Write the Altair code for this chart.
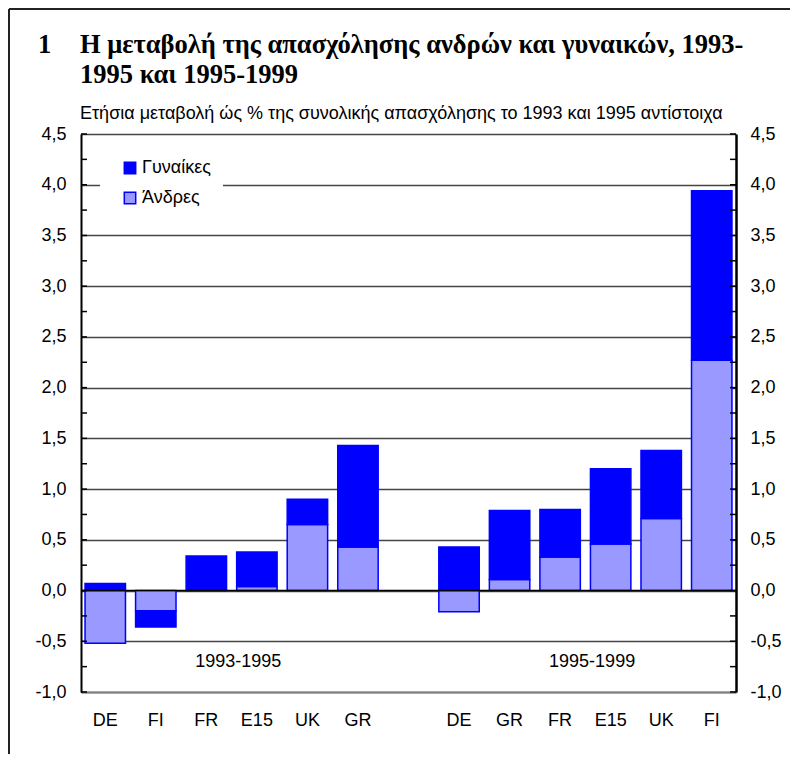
import altair as alt
import pandas as pd

# ---------------- data ----------------
countries_9395 = ["DE", "FI", "FR", "E15", "UK", "GR"]
countries_9599 = ["DE", "GR", "FR", "E15", "UK", "FI"]
men_9395 = [-0.52, -0.20, 0.00, 0.04, 0.65, 0.43]
women_9395 = [0.07, -0.16, 0.34, 0.34, 0.25, 1.00]
men_9599 = [-0.21, 0.11, 0.33, 0.46, 0.71, 2.27]
women_9599 = [0.43, 0.68, 0.47, 0.74, 0.67, 1.67]
series_names = ["Γυναίκες", "Άνδρες"]
series_colors = ["#0000FF", "#9999FF"]
period_labels = ["1993-1995", "1995-1999"]
period_anchor = ["FR|93", "FR|99"]
y_label_values = [-1.0, -0.5, 0.0, 0.5, 1.0, 1.5, 2.0, 2.5, 3.0, 3.5, 4.0, 4.5]
y_minor_ticks = [-1.0 + 0.25 * i for i in range(23)]
title_lines = ["Η μεταβολή της απασχόλησης ανδρών και γυναικών, 1993-",
               "1995 και 1995-1999"]
title_number = "1"
subtitle = "Ετήσια μεταβολή ώς % της συνολικής απασχόλησης το 1993 και 1995 αντίστοιχα"

keys = [c + "|93" for c in countries_9395] + ["|gap"] + [c + "|99" for c in countries_9599]

rows = []
for c, m, w in zip(countries_9395, men_9395, women_9395):
    rows.append({"key": c + "|93", "sex": series_names[1], "value": m, "ord": 0})
    rows.append({"key": c + "|93", "sex": series_names[0], "value": w, "ord": 1})
for c, m, w in zip(countries_9599, men_9599, women_9599):
    rows.append({"key": c + "|99", "sex": series_names[1], "value": m, "ord": 0})
    rows.append({"key": c + "|99", "sex": series_names[0], "value": w, "ord": 1})
df = pd.DataFrame(rows)

W, H = 655, 558
FONT = "Liberation Sans"
FS = 18
yscale = alt.Scale(domain=[-1.0, 4.5], nice=False, zero=False)
xscale = alt.Scale(domain=keys, paddingInner=0.2, paddingOuter=0.08)
comma_expr = "replace(replace(format(datum.value, '.1f'), '.', ','), '\u2212', '-')"

x_axis = alt.Axis(labelExpr="split(datum.label, '|')[0]", labelAngle=0,
                  labelFont=FONT, labelFontSize=FS, labelColor="#000",
                  labelPadding=19, ticks=False, domainColor="#808080",
                  domainWidth=2, grid=False, title=None)

bars = alt.Chart(df).mark_bar(stroke="#0000FF", strokeWidth=1.5).encode(
    x=alt.X("key:N", scale=xscale, sort=keys, title=None, axis=x_axis),
    y=alt.Y("value:Q", stack="zero", scale=yscale, title=None,
            axis=alt.Axis(orient="left", values=y_label_values, labelExpr=comma_expr,
                          labelFont=FONT, labelFontSize=FS, labelColor="#000",
                          labelPadding=15, ticks=False, domainColor="#000",
                          domainWidth=2, grid=True, gridColor="#444",
                          gridWidth=1.5)),
    color=alt.Color("sex:N", scale=alt.Scale(domain=series_names, range=series_colors),
                    legend=alt.Legend(orient="none", legendX=19, legendY=13,
                                      title=None, fillColor="white", padding=12,
                                      symbolType="square", symbolSize=130,
                                      symbolStrokeColor="#0000FF",
                                      symbolStrokeWidth=1.5, symbolOffset=9,
                                      labelFont=FONT, labelFontSize=FS,
                                      labelColor="#000", rowPadding=12,
                                      labelOffset=3)),
    order=alt.Order("ord:Q"),
)

tick_df = pd.DataFrame({"t": y_minor_ticks})
left_ticks = alt.Chart(tick_df).mark_rule(color="#000", strokeWidth=1.5).encode(
    y=alt.Y("t:Q", scale=yscale, axis=None),
    x=alt.value(0), x2=alt.value(6),
)
right_ticks = alt.Chart(tick_df).mark_rule(color="#000", strokeWidth=1.5).encode(
    y=alt.Y("t:Q", scale=yscale, title=None,
            axis=alt.Axis(orient="right", values=y_label_values, labelExpr=comma_expr,
                          labelFont=FONT, labelFontSize=FS, labelColor="#000",
                          labelPadding=14, ticks=False, domainColor="#000",
                          domainWidth=2.5, grid=False)),
    x=alt.value(W - 6), x2=alt.value(W),
)

zero_line = alt.Chart(pd.DataFrame({"z": [0.0]})).mark_rule(color="#000", strokeWidth=1.5).encode(
    y=alt.Y("z:Q", scale=yscale, axis=None),
    x=alt.value(0), x2=alt.value(W),
)

period_df = pd.DataFrame({"key": period_anchor, "label": period_labels, "y": [-0.7, -0.7]})
periods = alt.Chart(period_df).mark_text(font=FONT, fontSize=FS, color="#000",
                                         dx=32, baseline="middle").encode(
    x=alt.X("key:N", scale=xscale, sort=keys, title=None, axis=x_axis),
    y=alt.Y("y:Q", scale=yscale, axis=None),
    text="label:N",
)

def txt(s, x, y, **kw):
    return alt.Chart(pd.DataFrame({"s": [s]})).mark_text(align="left", baseline="alphabetic", **kw).encode(
        text="s:N", x=alt.value(x), y=alt.value(y))

tfont = dict(font="Liberation Serif", fontWeight="bold", fontSize=26.5, color="#000")
t0 = txt(title_number, -43, -81, **tfont)
t1 = txt(title_lines[0], -1, -81, **tfont)
t2 = txt(title_lines[1], -1, -51, **tfont)
t3 = txt(subtitle, -1, -15, font=FONT, fontSize=FS, color="#000")

frame_top = alt.Chart(pd.DataFrame({"a": [0]})).mark_rule(color="#222", strokeWidth=2).encode(
    x=alt.value(-72), x2=alt.value(W + 60), y=alt.value(-125))
frame_left = alt.Chart(pd.DataFrame({"a": [0]})).mark_rule(color="#222", strokeWidth=2).encode(
    x=alt.value(-72), y=alt.value(-125), y2=alt.value(H + 70))

chart = alt.layer(
    bars, zero_line, left_ticks, right_ticks, periods, t0, t1, t2, t3, frame_top, frame_left
).resolve_scale(y="shared").resolve_axis(y="independent").properties(
    width=W, height=H,
    autosize=alt.AutoSizeParams(type="none"),
    padding={"left": 73, "top": 126, "right": 54, "bottom": 62},
).configure_view(stroke=None).configure(background="white")

chart.save("out.html", embed_options={"renderer": "svg", "actions": False})
